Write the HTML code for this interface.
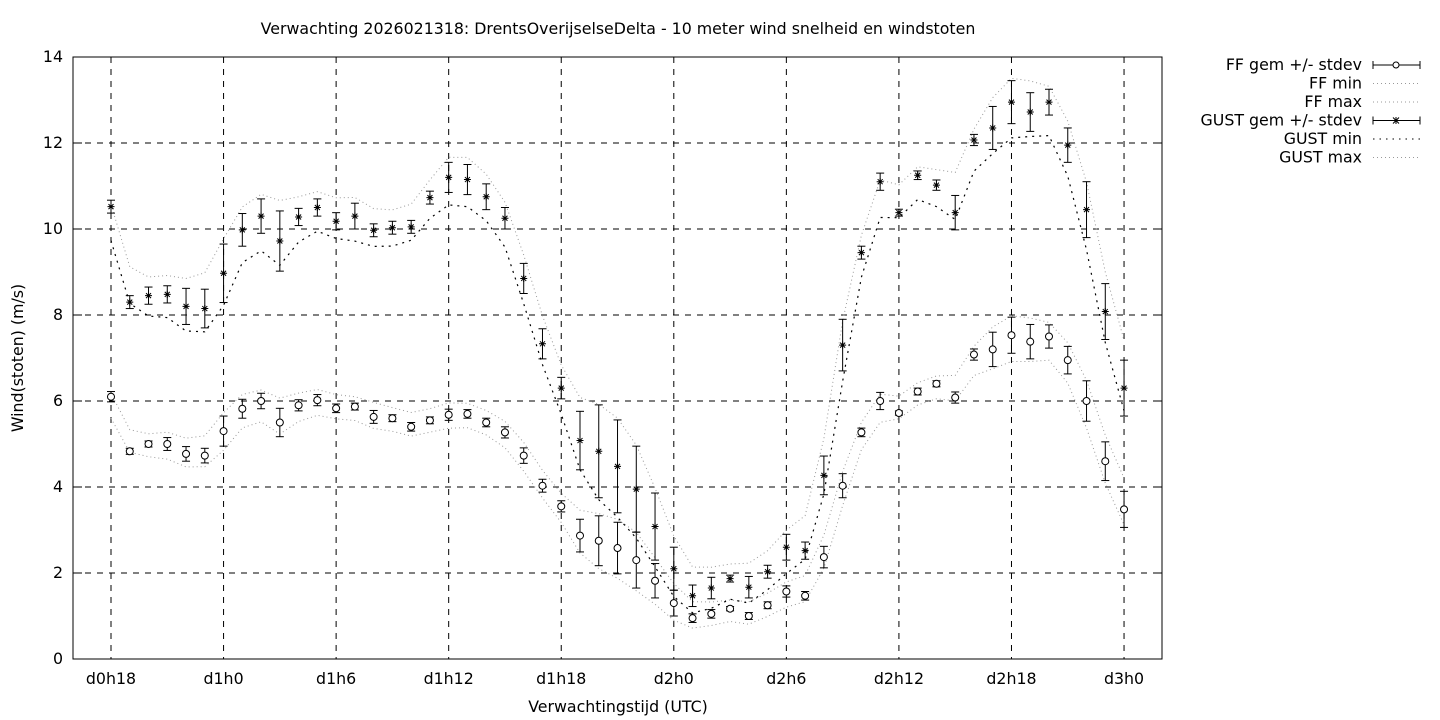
<!DOCTYPE html>
<html><head><meta charset="utf-8"><style>
body{margin:0;background:#fff}
svg{display:block;font-family:"DejaVu Sans","Liberation Sans",sans-serif}
</style></head><body>
<svg id="s" width="1440" height="720" xmlns="http://www.w3.org/2000/svg"></svg>
<script>
const s=document.getElementById('s');
let h='';
const X0=111,DX=18.76,Y0=659,SY=43,FS=15.8;
const xp=i=>X0+i*DX, yp=v=>Y0-v*SY;
for(let v=0;v<=14;v+=2){const y=yp(v);
 if(v>0&&v<14)h+=`<line x1="73" y1="${y}" x2="1162" y2="${y}" stroke="#000" stroke-dasharray="6,6"/>`;
 h+=`<line x1="73" y1="${y}" x2="82" y2="${y}" stroke="#000"/><line x1="1153" y1="${y}" x2="1162" y2="${y}" stroke="#000"/>`;
 h+=`<text x="63" y="${y+5}" font-size="${FS}" text-anchor="end">${v}</text>`;}
const lab=['d0h18','d1h0','d1h6','d1h12','d1h18','d2h0','d2h6','d2h12','d2h18','d3h0'];
lab.forEach((l,k)=>{const x=xp(k*6);
 h+=`<line x1="${x}" y1="57" x2="${x}" y2="659" stroke="#000" stroke-dasharray="6,6"/>`;
 h+=`<text x="${x}" y="684" font-size="${FS}" text-anchor="middle">${l}</text>`;});
h+=`<rect x="73" y="57" width="1089" height="602" fill="none" stroke="#000"/>`;
h+=`<text x="618" y="34" font-size="${FS}" text-anchor="middle">Verwachting 2026021318: DrentsOverijselseDelta - 10 meter wind snelheid en windstoten</text>`;
h+=`<text x="618" y="712" font-size="${FS}" text-anchor="middle">Verwachtingstijd (UTC)</text>`;
h+=`<text transform="translate(23,358) rotate(-90)" font-size="${FS}" text-anchor="middle">Wind(stoten) (m/s)</text>`;
const ff=[6.1,4.83,5.0,5.0,4.77,4.73,5.3,5.82,6.0,5.5,5.9,6.02,5.83,5.87,5.63,5.6,5.4,5.55,5.68,5.7,5.5,5.27,4.73,4.03,3.55,2.87,2.75,2.58,2.3,1.82,1.3,0.95,1.05,1.17,1.0,1.25,1.57,1.47,2.37,4.03,5.27,6.0,5.72,6.22,6.4,6.08,7.08,7.2,7.53,7.38,7.5,6.95,6.0,4.6,3.48];
const ffs=[0.12,0.07,0.07,0.15,0.17,0.17,0.35,0.22,0.18,0.33,0.13,0.13,0.1,0.08,0.15,0.08,0.1,0.08,0.13,0.1,0.1,0.13,0.18,0.15,0.13,0.38,0.58,0.6,0.65,0.4,0.3,0.1,0.1,0.05,0.08,0.08,0.13,0.1,0.25,0.28,0.1,0.2,0.05,0.08,0.07,0.13,0.13,0.4,0.42,0.4,0.27,0.32,0.47,0.45,0.42];
const gu=[10.52,8.3,8.45,8.48,8.2,8.15,8.97,9.98,10.3,9.72,10.28,10.5,10.18,10.3,9.97,10.03,10.05,10.73,11.2,11.15,10.75,10.25,8.85,7.33,6.3,5.08,4.83,4.48,3.95,3.08,2.1,1.47,1.65,1.87,1.67,2.03,2.6,2.52,4.27,7.3,9.45,11.1,10.38,11.25,11.02,10.38,12.07,12.35,12.95,12.72,12.95,11.95,10.45,8.08,6.3];
const gus=[0.15,0.15,0.2,0.2,0.42,0.45,0.68,0.38,0.4,0.7,0.2,0.2,0.2,0.3,0.15,0.15,0.15,0.15,0.35,0.35,0.3,0.25,0.35,0.35,0.25,0.68,1.08,1.08,1.0,0.78,0.5,0.25,0.25,0.08,0.25,0.15,0.3,0.2,0.45,0.6,0.15,0.2,0.08,0.1,0.12,0.4,0.13,0.5,0.5,0.45,0.3,0.4,0.65,0.65,0.65];
function smooth(a){return a.map((v,i)=>{const p=a[Math.max(0,i-1)],n=a[Math.min(a.length-1,i+1)];return (p+4*v+n)/6;});}
function line(a,dash,w,c){h+=`<polyline fill="none" stroke="${c}" stroke-width="${w}" stroke-dasharray="${dash}" points="${a.map((v,i)=>xp(i).toFixed(1)+','+yp(v).toFixed(1)).join(' ')}"/>`;}
line(smooth(ff.map((v,i)=>v+ffs[i]*0.8+0.2)),"1,3",1,"#999");
line(smooth(ff.map((v,i)=>v-ffs[i]*0.8-0.2)),"1,3",1,"#999");
line(smooth(gu.map((v,i)=>v+gus[i]*0.8+0.3)),"1,3",1,"#999");
line(smooth(gu.map((v,i)=>v-gus[i]*0.8-0.3)),"2,5",1.2,"#000");
function err(a,sd,mark){a.forEach((v,i)=>{const x=xp(i),y1=yp(v+sd[i]),y2=yp(v-sd[i]),y=yp(v);
 h+=`<line x1="${x}" y1="${y1}" x2="${x}" y2="${y2}" stroke="#000"/><line x1="${x-4}" y1="${y1}" x2="${x+4}" y2="${y1}" stroke="#000"/><line x1="${x-4}" y1="${y2}" x2="${x+4}" y2="${y2}" stroke="#000"/>`;
 if(mark==='o')h+=`<circle cx="${x}" cy="${y}" r="3.5" fill="#fff" stroke="#000"/>`;
 else h+=`<path d="M${x-3.5} ${y}H${x+3.5}M${x} ${y-3.5}V${y+3.5}M${x-2.5} ${y-2.5}L${x+2.5} ${y+2.5}M${x-2.5} ${y+2.5}L${x+2.5} ${y-2.5}" stroke="#000"/>`;});}
err(ff,ffs,'o');err(gu,gus,'x');
const L=[['FF gem +/- stdev','o'],['FF min','d'],['FF max','d'],['GUST gem +/- stdev','x'],['GUST min','g'],['GUST max','d']];
L.forEach((l,k)=>{const y=65+k*18.5;
 h+=`<text x="1362" y="${y+5}" font-size="${FS}" text-anchor="end">${l[0]}</text>`;
 if(l[1]==='o'||l[1]==='x'){h+=`<line x1="1373" y1="${y}" x2="1420" y2="${y}" stroke="#000"/><line x1="1373" y1="${y-4}" x2="1373" y2="${y+4}" stroke="#000"/><line x1="1420" y1="${y-4}" x2="1420" y2="${y+4}" stroke="#000"/>`;
  if(l[1]==='o')h+=`<circle cx="1396" cy="${y}" r="3" fill="#fff" stroke="#000"/>`;else h+=`<path d="M1393 ${y-3}L1399 ${y+3}M1393 ${y+3}L1399 ${y-3}M1396 ${y-3.5}V${y+3.5}" stroke="#000"/>`;}
 else if(l[1]==='g')h+=`<line x1="1373" y1="${y}" x2="1420" y2="${y}" stroke="#000" stroke-dasharray="1.5,5"/>`;
 else h+=`<line x1="1373" y1="${y}" x2="1420" y2="${y}" stroke="#999" stroke-dasharray="1,3"/>`;});
s.innerHTML=h;
</script>
</body></html>
